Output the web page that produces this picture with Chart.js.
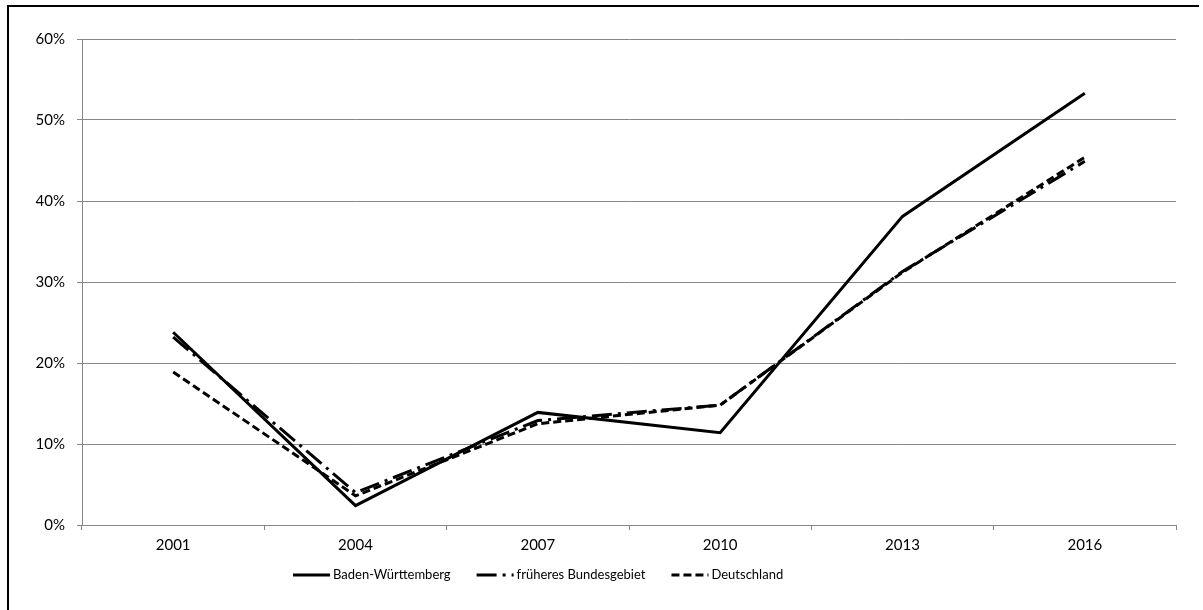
<!DOCTYPE html>
<html>
<head>
<meta charset="utf-8">
<script src="https://cdn.jsdelivr.net/npm/chart.js@4"></script>
<style>
  body { margin: 0; background: #fff; }
  #wrap { position: relative; width: 1203px; height: 610px; overflow: hidden; }
  #frame { position: absolute; left: 7px; top: 5px; width: 1190px; height: 640px;
           border-left: 2px solid #000; border-top: 2px solid #000; pointer-events: none; }
</style>
</head>
<body>
<div id="wrap">
  <canvas id="chart" width="1203" height="610"></canvas>
  <div id="frame"></div>
</div>
<script>
const years = ['2001', '2004', '2007', '2010', '2013', '2016'];
const badenWuerttemberg = [23.8, 2.4, 13.9, 11.4, 38.1, 53.3];
const frueheresBundesgebiet = [23.2, 4.0, 12.9, 14.8, 31.3, 44.9];
const deutschland = [18.9, 3.6, 12.5, 14.8, 31.2, 45.4];

const gridColor = '#868686';

// legend drawn by hand so the dashes show in the samples
const lineLegend = {
    id: 'lineLegend',
    afterDraw(chart) {
        const ctx = chart.ctx;
        let x = 293;
        const y = 575;
        ctx.save();
        ctx.font = '13px Lato';
        ctx.textBaseline = 'middle';
        ctx.fillStyle = '#000';
        chart.data.datasets.forEach((ds) => {
            ctx.strokeStyle = ds.borderColor;
            ctx.lineWidth = ds.borderWidth;
            ctx.setLineDash(ds.borderDash || []);
            ctx.beginPath();
            ctx.moveTo(x, y);
            ctx.lineTo(x + 37, y);
            ctx.stroke();
            x += 40;
            ctx.fillText(ds.label, x, y);
            x += ctx.measureText(ds.label).width + 26;
        });
        ctx.restore();
    }
};

new Chart(document.getElementById('chart'), {
    type: 'line',
    data: {
        labels: years,
        datasets: [{
            label: 'Baden-Württemberg',
            data: badenWuerttemberg,
            borderColor: '#000',
            borderWidth: 3,
            pointRadius: 0,
            tension: 0
        }, {
            label: 'früheres Bundesgebiet',
            data: frueheresBundesgebiet,
            borderColor: '#000',
            borderWidth: 3,
            borderDash: [20, 6, 3, 6],
            pointRadius: 0,
            tension: 0
        }, {
            label: 'Deutschland',
            data: deutschland,
            borderColor: '#000',
            borderWidth: 3,
            borderDash: [8, 4],
            pointRadius: 0,
            tension: 0
        }]
    },
    options: {
        responsive: false,
        animation: false,
        devicePixelRatio: 1,
        layout: { padding: { left: 0, right: 27, top: 39, bottom: 45 } },
        plugins: {
            tooltip: { enabled: false },
            legend: { display: false }
        },
        scales: {
            x: {
                offset: true,
                afterFit: (scale) => { scale.height = 40; },
                grid: {
                    offset: true,
                    drawOnChartArea: false,
                    drawTicks: true,
                    tickLength: 5,
                    color: gridColor
                },
                border: { color: gridColor, width: 1 },
                ticks: {
                    color: '#000',
                    padding: 6,
                    font: { family: 'Lato', size: 15 }
                }
            },
            y: {
                min: 0,
                max: 60,
                afterFit: (scale) => { scale.width = 82; },
                grid: { color: gridColor, tickLength: 5 },
                border: { color: gridColor, width: 1 },
                ticks: {
                    stepSize: 10,
                    color: '#000',
                    padding: 12,
                    font: { family: 'Lato', size: 15 },
                    callback: (v) => v + '%'
                }
            }
        }
    },
    plugins: [lineLegend]
});
</script>
</body>
</html>
